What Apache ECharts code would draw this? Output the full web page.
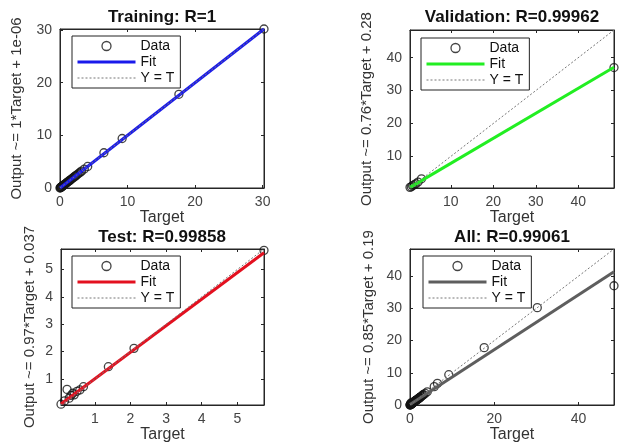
<!DOCTYPE html>
<html>
<head>
<meta charset="utf-8">
<script src="https://cdn.jsdelivr.net/npm/echarts@6/dist/echarts.min.js"></script>
<style>
html,body{margin:0;padding:0;background:#fff;}
#chart{width:622px;height:446px;}
</style>
</head>
<body>
<div id="chart"></div>
<script>
// ---- data ----
const titles = ['Training: R=1', 'Validation: R=0.99962', 'Test: R=0.99858', 'All: R=0.99061'];
const yNames = ['Output ~= 1*Target + 1e-06', 'Output ~= 0.76*Target + 0.28', 'Output ~= 0.97*Target + 0.037', 'Output ~= 0.85*Target + 0.19'];
const fitSlope = [1, 0.76, 0.97, 0.85];
const fitIntercept = [0.000001, 0.28, 0.037, 0.19];

const trainTarget = [0, 0.05, 0.1, 0.15, 0.2, 0.25, 0.3, 0.38, 0.45, 0.52, 0.6, 0.7, 0.8, 0.9, 1.0, 1.1, 1.25, 1.4, 1.5, 1.65, 1.8, 1.95, 2.1, 2.25, 2.4, 2.6, 2.8, 3.0, 3.2, 3.6, 4.1, 6.5, 9.2, 17.6, 30.2];
const trainOutput = [0, 0.05, 0.1, 0.15, 0.2, 0.25, 0.3, 0.38, 0.45, 0.52, 0.6, 0.7, 0.8, 0.9, 1.0, 1.1, 1.25, 1.4, 1.5, 1.65, 1.8, 1.95, 2.1, 2.25, 2.4, 2.6, 2.8, 3.0, 3.2, 3.6, 4.1, 6.7, 9.4, 17.8, 30.2];
const valTarget = [0.4, 0.7, 1.0, 1.4, 1.8, 2.3, 3.1, 48.4];
const valOutput = [0.6, 0.8, 1.1, 1.4, 1.7, 2.2, 3.2, 37.0];
const testTarget = [0.05, 0.15, 0.22, 0.28, 0.33, 0.38, 0.42, 0.5, 0.58, 0.68, 1.38, 2.1, 5.75];
const testOutput = [0.08, 0.2, 0.62, 0.3, 0.4, 0.48, 0.42, 0.55, 0.6, 0.72, 1.45, 2.12, 5.7];

const trainTicks = [0, 10, 20, 30];
const valTicks = [10, 20, 30, 40];
const testTicks = [1, 2, 3, 4, 5];
const allXTicks = [0, 20, 40];
const allYTicks = [0, 10, 20, 30, 40];

const fitColors = ['#1a1aeb', '#22ee22', '#e3101f', '#5e5e5e'];

// ---- layout ----
const FONT = '"Liberation Sans", Arial, Helvetica, sans-serif';
const grids = [
  {left: 60, top: 29, width: 204, height: 159},
  {left: 410, top: 30, width: 204, height: 158},
  {left: 61, top: 249, width: 203, height: 156},
  {left: 410, top: 249, width: 204, height: 156}
];
const titlePos = [{x: 162, y: 9}, {x: 512, y: 9}, {x: 162, y: 229}, {x: 512, y: 229}];
const legendPos = [{x: 72, y: 36}, {x: 421, y: 38}, {x: 72, y: 256}, {x: 423, y: 256}];
const yNameGap = [36, 36, 24, 34];

const allTarget = trainTarget.concat(valTarget, testTarget);
const allOutput = trainOutput.concat(valOutput, testOutput);
const panels = [
  {t: trainTarget, o: trainOutput, xt: trainTicks, yt: trainTicks},
  {t: valTarget, o: valOutput, xt: valTicks, yt: valTicks},
  {t: testTarget, o: testOutput, xt: testTicks, yt: testTicks},
  {t: allTarget, o: allOutput, xt: allXTicks, yt: allYTicks}
];

const option = {
  backgroundColor: '#fff',
  animation: false,
  textStyle: {fontFamily: FONT},
  title: [], grid: [], xAxis: [], yAxis: [], legend: [], series: []
};

const axisColor = '#262626';
const hidden = {color: 'rgba(0,0,0,0)', borderColor: 'rgba(0,0,0,0)', borderWidth: 0, opacity: 0};
panels.forEach((p, i) => {
  const vals = p.t.concat(p.o);
  const lo = Math.min.apply(null, vals);
  const hi = Math.max.apply(null, vals);
  option.grid.push(Object.assign({show: true, backgroundColor: '#fff', borderColor: axisColor, borderWidth: 1}, grids[i]));
  option.title.push({
    text: titles[i], left: titlePos[i].x, top: titlePos[i].y, textAlign: 'center', padding: 0,
    textStyle: {fontFamily: FONT, fontSize: 17, fontWeight: 'bold', color: '#111'}
  });
  const baseAxis = (ticks, pos) => ({
    type: 'value', gridIndex: i, min: lo, max: hi, position: pos,
    axisLine: {show: true, onZero: false, lineStyle: {color: axisColor, width: 1}},
    axisTick: {show: true, inside: true, length: 3, customValues: ticks, lineStyle: {color: axisColor}},
    splitLine: {show: false}
  });
  const xb = baseAxis(p.xt, 'bottom');
  xb.name = 'Target'; xb.nameLocation = 'middle'; xb.nameGap = 22;
  xb.nameTextStyle = {fontFamily: FONT, fontSize: 16, color: '#333'};
  xb.axisLabel = {customValues: p.xt, fontFamily: FONT, fontSize: 14, color: '#444', margin: 7};
  const xtp = baseAxis(p.xt, 'top');
  xtp.axisLabel = {show: false};
  const yl = baseAxis(p.yt, 'left');
  yl.name = yNames[i]; yl.nameLocation = 'middle'; yl.nameGap = yNameGap[i];
  yl.nameTextStyle = {fontFamily: FONT, fontSize: 15, color: '#333'};
  yl.axisLabel = {customValues: p.yt, fontFamily: FONT, fontSize: 14, color: '#444', margin: 8};
  const yr = baseAxis(p.yt, 'right');
  yr.axisLabel = {show: false};
  option.xAxis.push(xb, xtp);
  option.yAxis.push(yl, yr);

  const xi = 2 * i, yi = 2 * i;
  const pts = p.t.map((v, k) => [v, p.o[k]]);
  option.series.push({
    type: 'scatter', name: 'Data#' + i, xAxisIndex: xi, yAxisIndex: yi, z: 2,
    symbol: 'circle', symbolSize: 8, data: pts,
    itemStyle: {color: 'rgba(0,0,0,0)', borderColor: '#141414', borderWidth: 1.3}
  });
  option.series.push({
    type: 'line', name: 'Fit#' + i, xAxisIndex: xi, yAxisIndex: yi, z: 3,
    symbol: 'none', data: [[lo, fitSlope[i] * lo + fitIntercept[i]], [hi, fitSlope[i] * hi + fitIntercept[i]]],
    lineStyle: {color: fitColors[i], width: 3}
  });
  option.series.push({
    type: 'line', name: 'Y = T#' + i, xAxisIndex: xi, yAxisIndex: yi, z: 3,
    symbol: 'none', data: [[lo, lo], [hi, hi]],
    lineStyle: {color: '#777', width: 1, type: [2, 2]}
  });
  option.legend.push({
    left: legendPos[i].x, top: legendPos[i].y, orient: 'vertical', selectedMode: false,
    backgroundColor: '#fff', borderColor: '#222', borderWidth: 1, padding: [3, 6, 3, 4],
    itemGap: 2, itemWidth: 58, itemHeight: 9,
    textStyle: {fontFamily: FONT, fontSize: 14, color: '#111'},
    formatter: n => n.split('#')[0],
    data: [
      {name: 'Data#' + i, icon: 'circle', itemStyle: {color: 'rgba(0,0,0,0)', borderColor: '#141414', borderWidth: 1.3}},
      {name: 'Fit#' + i, itemStyle: hidden, lineStyle: {color: fitColors[i], width: 3, type: 'solid'}},
      {name: 'Y = T#' + i, itemStyle: hidden, lineStyle: {color: '#777', width: 1, type: [2, 2]}}
    ]
  });
});

const chart = echarts.init(document.getElementById('chart'), null, {renderer: 'canvas'});
chart.setOption(option);
</script>
</body>
</html>
